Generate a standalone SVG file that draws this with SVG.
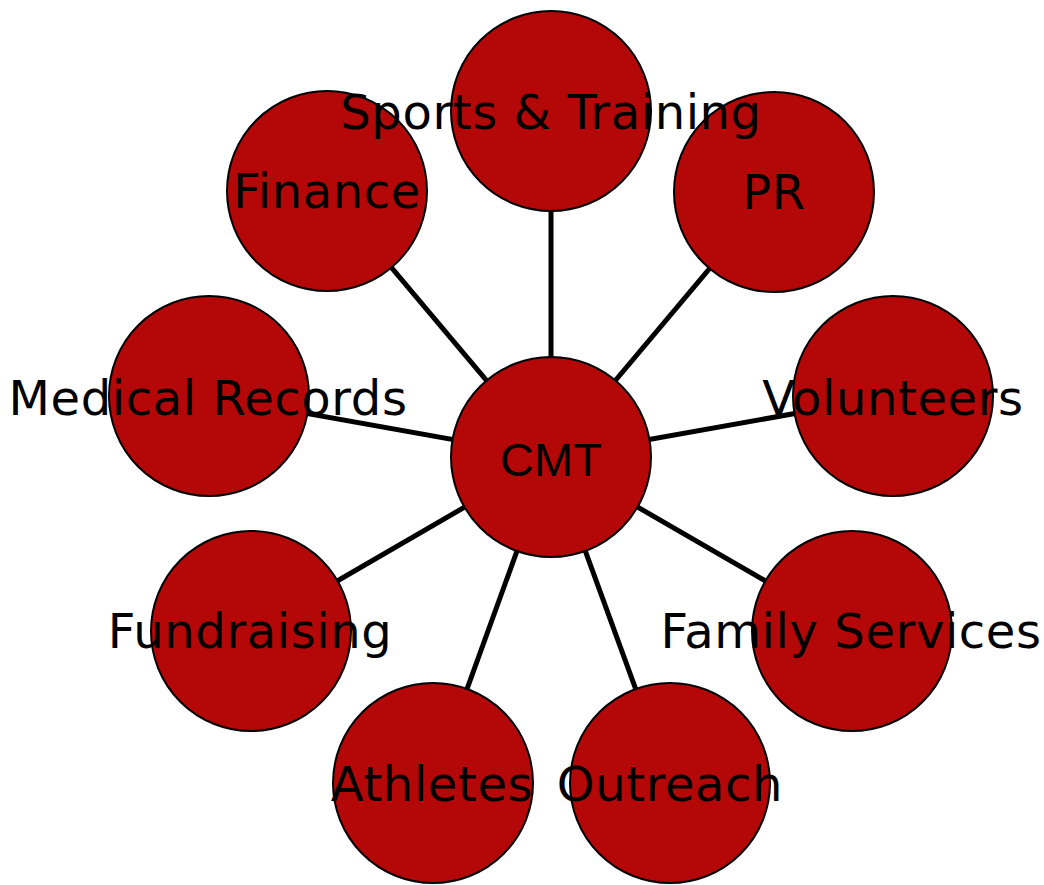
<svg xmlns="http://www.w3.org/2000/svg" width="1044" height="885" viewBox="0 0 1044 885">
<style>
.c{fill:#b40707;stroke:#000;stroke-width:2}
.t{font-family:"DejaVu Sans",Verdana,sans-serif;font-size:48px;letter-spacing:0.6px;fill:#000;text-anchor:middle}
.m{font-family:"Liberation Sans",Arial,sans-serif;font-size:47px;fill:#000;text-anchor:middle}
#links line{stroke:#000;stroke-width:5}
</style>
<rect width="1044" height="885" fill="#fff"/>
<g id="links">
<line x1="551" y1="457" x2="551" y2="111"/>
<line x1="551" y1="457" x2="774" y2="192"/>
<line x1="551" y1="457" x2="327" y2="191"/>
<line x1="551" y1="457" x2="209" y2="396"/>
<line x1="551" y1="457" x2="893" y2="396"/>
<line x1="551" y1="457" x2="251" y2="631"/>
<line x1="551" y1="457" x2="852" y2="631"/>
<line x1="551" y1="457" x2="433" y2="783"/>
<line x1="551" y1="457" x2="670" y2="783"/>
</g>
<g id="n-sports"><circle class="c" cx="551" cy="111" r="100"/></g>
<g id="n-pr"><circle class="c" cx="774" cy="192" r="100"/></g>
<g id="n-finance"><circle class="c" cx="327" cy="191" r="100"/></g>
<g id="n-medical"><circle class="c" cx="209" cy="396" r="100"/></g>
<g id="n-volunteers"><circle class="c" cx="893" cy="396" r="100"/></g>
<g id="n-fundraising"><circle class="c" cx="251" cy="631" r="100"/></g>
<g id="n-family"><circle class="c" cx="852" cy="631" r="100"/></g>
<g id="n-athletes"><circle class="c" cx="433" cy="783" r="100"/></g>
<g id="n-outreach"><circle class="c" cx="670" cy="783" r="100"/></g>
<g id="n-cmt"><circle class="c" cx="551" cy="457" r="100"/></g>
<g id="labels">
<text class="t" x="551" y="129">Sports &amp; Training</text>
<text class="t" x="774" y="209">PR</text>
<text class="t" x="327" y="208">Finance</text>
<text class="t" x="208" y="415">Medical Records</text>
<text class="t" x="893" y="415">Volunteers</text>
<text class="t" x="250" y="648">Fundraising</text>
<text class="t" x="851" y="648">Family Services</text>
<text class="t" x="432" y="801">Athletes</text>
<text class="t" x="670" y="801">Outreach</text>
<text class="m" x="551" y="476">CMT</text>
</g>
</svg>
